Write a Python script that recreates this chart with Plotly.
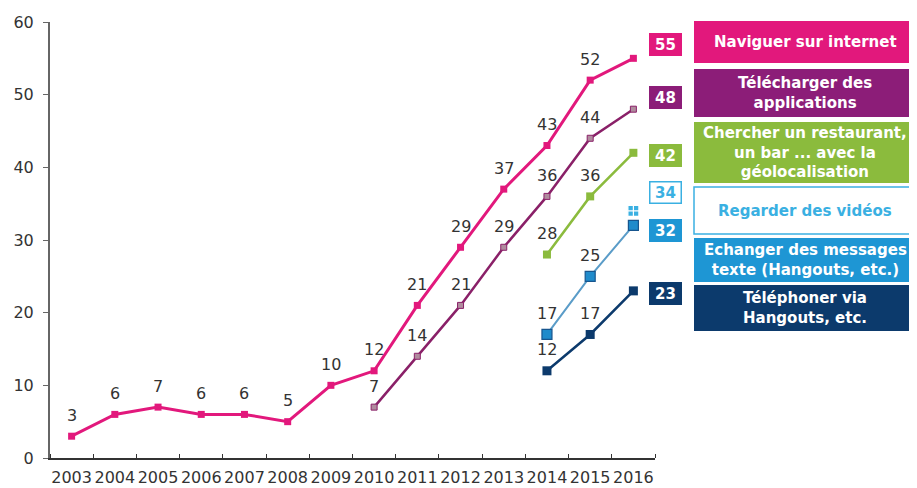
import plotly.graph_objects as go

years = [2003, 2004, 2005, 2006, 2007, 2008, 2009, 2010,
         2011, 2012, 2013, 2014, 2015, 2016]

naviguer = [3, 6, 7, 6, 6, 5, 10, 12, 21, 29, 37, 43, 52, 55]
telecharger = [None] * 7 + [7, 14, 21, 29, 36, 44, 48]
chercher = [None] * 11 + [28, 36, 42]
videos = [None] * 13 + [34]
echanger = [None] * 11 + [17, 25, 32]
telephoner = [None] * 11 + [12, 17, 23]

series_names = [
    "Naviguer sur internet",
    "Télécharger des<br>applications",
    "Chercher un restaurant,<br>un bar ... avec la<br>géolocalisation",
    "Regarder des vidéos",
    "Echanger des messages<br>texte (Hangouts, etc.)",
    "Téléphoner via<br>Hangouts, etc.",
]
y_ticks = [0, 10, 20, 30, 40, 50, 60]

PINK = "#E2187C"
PURPLE = "#8C1D78"
GREEN = "#8BBB3D"
VIDEO = "#3AB0E2"
BLUE = "#1E96D4"
NAVY = "#0C3A6C"

FONT = "DejaVu Sans"

fig = go.Figure()

styles = [
    (naviguer, True, dict(color=PINK, width=3), dict(symbol="square", size=7, color=PINK)),
    (telecharger, True, dict(color="#8A2068", width=2.5),
     dict(symbol="square", size=6, color="#B08C9E", line=dict(color="#8A2068", width=1))),
    (chercher, True, dict(color=GREEN, width=2.5), dict(symbol="square", size=8, color=GREEN)),
    (videos, False, dict(color=VIDEO, width=2),
     dict(symbol="square-cross", size=11, color=VIDEO, line=dict(color="white", width=1.2))),
    (echanger, True, dict(color="#5A9CC8", width=2),
     dict(symbol="square", size=10, color="#1F8BCB", line=dict(color="#17558E", width=1.2))),
    (telephoner, True, dict(color=NAVY, width=2.5), dict(symbol="square", size=9, color=NAVY)),
]

annotations = []
for (vals, show, line, marker), name in zip(styles, series_names):
    fig.add_trace(go.Scatter(x=years, y=vals, mode="lines+markers", line=line,
                             marker=marker, name=name, showlegend=False,
                             connectgaps=False, cliponaxis=False))
    if show:
        idx = [i for i, v in enumerate(vals) if v is not None]
        for i in idx[:-1]:
            annotations.append(dict(x=years[i], y=vals[i], xref="x", yref="y",
                                    text=str(vals[i]), showarrow=False,
                                    xanchor="center", yanchor="middle", yshift=21,
                                    font=dict(family=FONT, size=16, color="#333333")))

# the page is drawn with an 8px body margin; figure coords = page coords - 8
OFF = 8
PLOT_L, PLOT_R, PLOT_T, PLOT_B = 50, 655, 22, 458
W, H = 917 - OFF, 488 - OFF


def px_(p):
    return (p - PLOT_L) / (PLOT_R - PLOT_L)


def py(p):
    return (PLOT_B - p) / (PLOT_B - PLOT_T)


end_boxes = [
    (naviguer[-1], 44, PINK, "white", PINK),
    (telecharger[-1], 98, PURPLE, "white", PURPLE),
    (chercher[-1], 155, GREEN, "white", GREEN),
    (videos[-1], 192, "white", VIDEO, VIDEO),
    (echanger[-1], 231, BLUE, "white", BLUE),
    (telephoner[-1], 293, NAVY, "white", NAVY),
]
for val, cy, bg, fc, bc in end_boxes:
    annotations.append(dict(x=px_(666), y=py(cy), xref="paper", yref="paper",
                            text="<b>%d</b>" % val, showarrow=False,
                            xanchor="center", yanchor="middle",
                            width=28, height=18, bgcolor=bg, bordercolor=bc,
                            borderwidth=1.5, borderpad=1,
                            font=dict(family=FONT, size=15, color=fc)))

legend_boxes = [
    (21, 63, PINK, "white", PINK),
    (69, 117, PURPLE, "white", PURPLE),
    (122, 183, GREEN, "white", GREEN),
    (187, 234, "white", VIDEO, VIDEO),
    (238, 282, BLUE, "white", BLUE),
    (285, 331, NAVY, "white", NAVY),
]
shapes = []
x0 = px_(694)
x1 = px_(916)
for (top, bot, bg, fc, bc), name in zip(legend_boxes, series_names):
    shapes.append(dict(type="rect", xref="paper", yref="paper", x0=x0, x1=x1,
                       y0=py(bot), y1=py(top), fillcolor=bg,
                       line=dict(color=bc, width=1.5 if bg == "white" else 0)))
    annotations.append(dict(x=(x0 + x1) / 2, y=py((top + bot) / 2), xref="paper", yref="paper",
                            text="<b>%s</b>" % name, showarrow=False,
                            xanchor="center", yanchor="middle", align="center",
                            font=dict(family=FONT, size=15, color=fc)))

fig.update_layout(
    width=W, height=H,
    margin=dict(l=PLOT_L - OFF, r=W - (PLOT_R - OFF), t=PLOT_T - OFF, b=H - (PLOT_B - OFF)),
    paper_bgcolor="white", plot_bgcolor="white",
    font=dict(family=FONT, size=16, color="#333333"),
    annotations=annotations, shapes=shapes,
    xaxis=dict(range=[years[0] - 0.5, years[-1] + 0.5], tickvals=years,
               showgrid=False, zeroline=False,
               showline=True, linecolor="#333333", linewidth=1.5, tickangle=0,
               automargin=False, ticks="", ticklabelstandoff=4,
               minor=dict(tick0=years[0] - 0.5, dtick=1, ticks="inside", ticklen=4,
                          tickcolor="#333333", showgrid=False),
               tickfont=dict(family=FONT, size=16, color="#333333")),
    yaxis=dict(range=[0, 60], tickvals=y_ticks, showgrid=False, zeroline=False,
               showline=True, linecolor="#666666", linewidth=2, automargin=False,
               ticks="outside", ticklen=5, tickcolor="#666666", ticklabelstandoff=6,
               tickfont=dict(family=FONT, size=16, color="#333333")),
)

fig.write_html("out.html")
